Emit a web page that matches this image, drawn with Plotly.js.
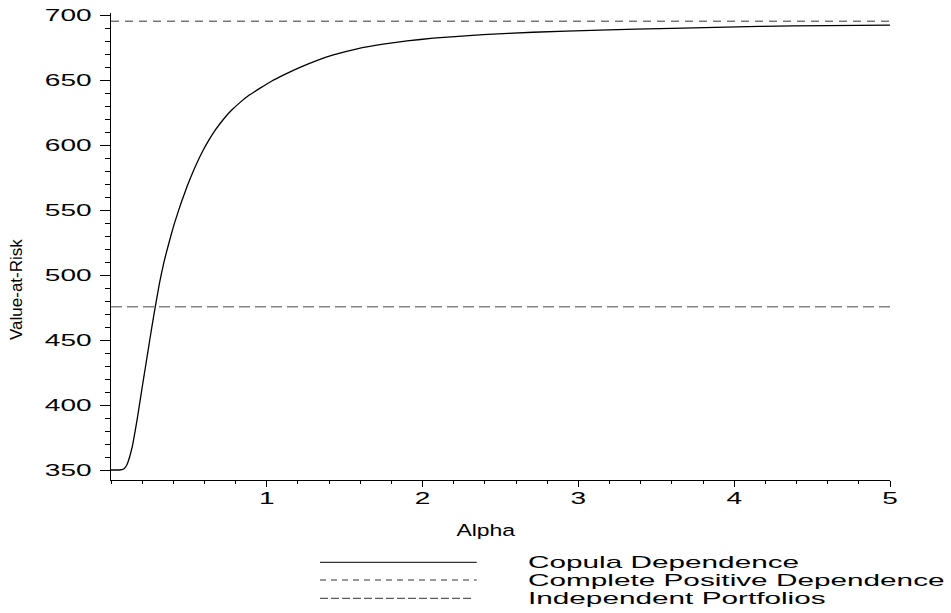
<!DOCTYPE html>
<html>
<head>
<meta charset="utf-8">
<script src="https://cdn.plot.ly/plotly-3.0.1.min.js"></script>
<style>
html,body{margin:0;padding:0;background:#fff;}
#chart{width:951px;height:613px;}
</style>
</head>
<body>
<div id="chart"></div>
<script>
// ---- data ----
const alpha = [0, 0.05, 0.07, 0.085, 0.1, 0.113, 0.125, 0.14, 0.155, 0.17, 0.185, 0.2, 0.22, 0.24, 0.26, 0.284, 0.31, 0.34, 0.37, 0.4, 0.433, 0.455, 0.49, 0.53, 0.58, 0.626, 0.67, 0.722, 0.77, 0.829, 0.89, 0.957, 1.03, 1.106, 1.213, 1.32, 1.427, 1.58, 1.747, 1.9, 2.068, 2.388, 2.709, 3.137, 3.6, 4.16, 4.6, 5.0];
const copulaVaR = [350, 350, 350.2, 351.2, 353.5, 357.5, 362.5, 370, 380, 390.5, 402, 413.5, 428.5, 443.5, 458.5, 475.6, 493, 510, 524, 537, 549.5, 557.3, 568.8, 580.6, 593.5, 603.5, 611.8, 620, 626.5, 633, 638.8, 644, 649.3, 654, 660, 665.2, 669.5, 674.2, 677.8, 680.3, 682.4, 685.2, 687, 688.6, 690, 691.5, 692.1, 692.5];
const lineAlpha = [0, 5];
const completePositive = [695.5, 695.5];
const independent = [475.6, 475.6];
const seriesNames = ["Copula Dependence", "Complete Positive Dependence", "Independent Portfolios"];
const xTickVals = [1, 2, 3, 4, 5];
const yTickVals = [350, 400, 450, 500, 550, 600, 650, 700];
const xTitle = "Alpha";
const yTitle = "Value-at-Risk";

// ---- layout helpers ----
const W = 951, H = 613;
const M = {l: 111, r: 61, t: 13, b: 133};
const pw = W - M.l - M.r, ph = H - M.t - M.b;
const px2x = p => (p - M.l) / pw;
const px2y = p => (H - M.b - p) / ph;
const FONT = "Liberation Sans, Arial, Helvetica, sans-serif";

const traces = [
  {x: alpha, y: copulaVaR, mode: "lines", name: seriesNames[0],
   line: {color: "#000", width: 1.3, shape: "spline", smoothing: 0.5}},
  {x: lineAlpha, y: completePositive, mode: "lines", name: seriesNames[1],
   line: {color: "#333", width: 1, dash: "8px,6px"}},
  {x: lineAlpha, y: independent, mode: "lines", name: seriesNames[2],
   line: {color: "#444", width: 1, dash: "11px,5px"}}
];

const legendRows = [562.3, 580, 598.3];
const legendDash = ["solid", "6px,5px", "8px,3px"];
const legendEnd = [476.7, 476.7, 473];
const shapes = legendRows.map((py, i) => ({
  type: "line", xref: "paper", yref: "paper",
  x0: px2x(320), x1: px2x(legendEnd[i]), y0: px2y(py), y1: px2y(py),
  line: {color: i === 0 ? "#000" : "#333", width: 1, dash: legendDash[i]}
}));

const annotations = seriesNames.map((s, i) => ({
  text: s, xref: "paper", yref: "paper", x: px2x(526), y: px2y(legendRows[i]),
  xanchor: "left", yanchor: "middle", align: "left", showarrow: false,
  font: {family: FONT, size: 17, color: "#000"}
}));
annotations.push({
  text: xTitle, xref: "paper", yref: "paper", x: px2x(486), y: px2y(530),
  xanchor: "center", yanchor: "middle", showarrow: false,
  font: {family: FONT, size: 17, color: "#000"}
});
annotations.push({
  text: yTitle, xref: "paper", yref: "paper", x: px2x(16), y: px2y(290),
  xanchor: "center", yanchor: "middle", textangle: -90, showarrow: false,
  font: {family: FONT, size: 17, color: "#000"}
});

const layout = {
  width: W, height: H,
  margin: M,
  paper_bgcolor: "#fff", plot_bgcolor: "#fff",
  showlegend: false,
  font: {family: FONT, color: "#000"},
  xaxis: {
    range: [0, 5], tickmode: "array", tickvals: xTickVals,
    ticks: "outside", ticklen: 6, tickwidth: 1, tickcolor: "#000",
    showline: true, linecolor: "#000", linewidth: 1,
    showgrid: false, zeroline: false,
    tickfont: {family: FONT, size: 17, color: "#000"},
    minor: {tickmode: "linear", tick0: 0, dtick: 0.2, ticks: "outside", ticklen: 3, tickcolor: "#000", showgrid: false}
  },
  yaxis: {
    range: [342.3, 701.8], tickmode: "array", tickvals: yTickVals,
    ticks: "outside", ticklen: 10, tickwidth: 1, tickcolor: "#000",
    showline: true, linecolor: "#000", linewidth: 1,
    showgrid: false, zeroline: false,
    tickfont: {family: FONT, size: 17, color: "#000"},
    minor: {tickmode: "linear", tick0: 350, dtick: 10, ticks: "outside", ticklen: 5, tickcolor: "#000", showgrid: false}
  },
  shapes: shapes,
  annotations: annotations
};

function stretchEl(t, sx, dx, dy) {
  const x = parseFloat(t.getAttribute("x")) || 0;
  const y = parseFloat(t.getAttribute("y")) || 0;
  const tr = t.getAttribute("transform") || "";
  t.setAttribute("transform", tr + " translate(" + (x + dx) + "," + (y + dy) + ") scale(" + sx + ",1) translate(" + (-x) + "," + (-y) + ")");
}

Plotly.newPlot("chart", traces, layout, {staticPlot: true, displayModeBar: false}).then(() => {
  try {
    document.querySelectorAll("#chart .ytick text").forEach(t => stretchEl(t, 1.65, -5, 0));
    document.querySelectorAll("#chart .xtick text").forEach(t => stretchEl(t, 1.65, 0, -3));
    const ann = document.querySelectorAll("#chart .annotation-text");
    ann.forEach((t, i) => { if (i < 3) stretchEl(t, 1.75, 0, 0); else if (i === 3) stretchEl(t, 1.35, 0, 0); });
  } catch (e) {}
});
</script>
</body>
</html>
